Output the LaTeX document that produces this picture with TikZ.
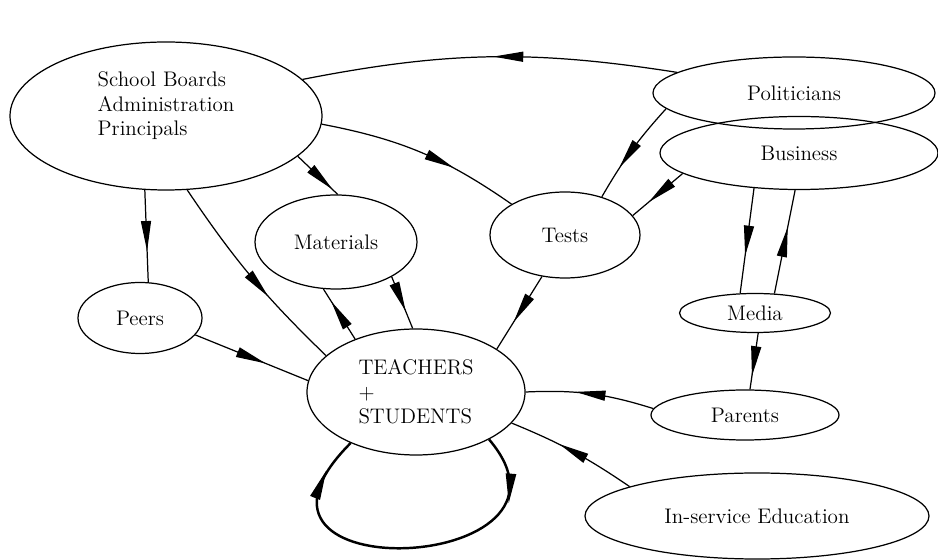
\documentclass[tikz,border=0pt]{standalone}
\usetikzlibrary{arrows.meta, decorations.markings, shapes.geometric}
\tikzset{
  actor/.style={ellipse, draw=black, line width=0.7pt, inner sep=0pt, font=\large},
  flow/.style={line width=0.7pt},
  midarrow/.style={postaction={decorate, decoration={markings,
      mark=at position #1 with {\arrow[xshift=0.3cm]{Triangle[length=0.6cm, width=0.2cm]}}}}},
  midarrow/.default=0.5,
  selfloop/.style={line width=1.4pt}
}

\begin{document}
\begin{tikzpicture}
  \useasboundingbox (0,0) rectangle (18.76,11.2);

  % --- Groups around the classroom ---
  \node[actor, align=left, minimum width=6.24cm, minimum height=2.96cm] (boards) at (3.32,8.88)
    {School Boards\\Administration\\Principals\\ \mbox{}};
  \node[actor, minimum width=5.64cm, minimum height=1.44cm] (politicians) at (15.88,9.34) {Politicians};
  \node[actor, minimum width=5.56cm, minimum height=1.46cm] (business) at (15.98,8.14) {Business};
  \node[actor, minimum width=3.00cm, minimum height=1.72cm] (tests) at (11.30,6.50) {Tests};
  \node[actor, minimum width=3.24cm, minimum height=1.88cm] (materials) at (6.72,6.36) {Materials};
  \node[actor, minimum width=2.48cm, minimum height=1.42cm] (peers) at (2.80,4.84) {Peers};
  \node[actor, minimum width=3.02cm, minimum height=0.78cm] (media) at (15.10,4.94) {Media};
  \node[actor, minimum width=3.76cm, minimum height=1.00cm] (parents) at (14.90,2.90) {Parents};
  \node[actor, minimum width=6.88cm, minimum height=1.72cm] (inservice) at (15.14,0.88) {In-service Education};

  % --- The classroom itself ---
  \node[actor, align=left, minimum width=4.36cm, minimum height=2.52cm] (teachers) at (8.32,3.36)
    {TEACHERS\\+\\STUDENTS};

  % --- Influences ---
  \draw[flow, midarrow=0.45] (politicians.170) to[bend right=10] (boards.15);
  \draw[flow, midarrow=0.6] (boards.-3) to[bend left=12] (tests.150);
  \draw[flow, midarrow=0.6] (boards.-17) -- (materials.88);
  \draw[flow, midarrow] (boards.-106) -- (peers.77);
  \draw[flow, midarrow=0.55] (boards.-74) to[bend right=6] (teachers.158);
  \draw[flow, midarrow=0.55] (politicians.187) to[bend right=6] (tests.46);
  \draw[flow, midarrow=0.45] (business.190) -- (tests.16);
  \draw[flow, midarrow] (business.218) -- (media.127);
  \draw[flow, midarrow] (media.45) -- (business.264);
  \draw[flow, midarrow] (media.-81) -- (parents.79);
  \draw[flow, midarrow] (parents.176) to[bend right=10] (teachers.0);
  \draw[flow, midarrow] (inservice.167) to[bend right=6] (teachers.-18);
  \draw[flow, midarrow=0.45] (tests.241) -- (teachers.28);
  \draw[flow, midarrow=0.4] (materials.-32) -- (teachers.93);
  \draw[flow, midarrow] (teachers.139) -- (materials.255);
  \draw[flow, midarrow] (peers.-17) -- (teachers.174);

  % --- Feedback within the classroom ---
  \draw[selfloop, midarrow=0.15, midarrow=0.86]
    (teachers.-33) .. controls +(2.3,-2.7) and +(-3.0,-3.0) .. (teachers.218);
\end{tikzpicture}
\end{document}
